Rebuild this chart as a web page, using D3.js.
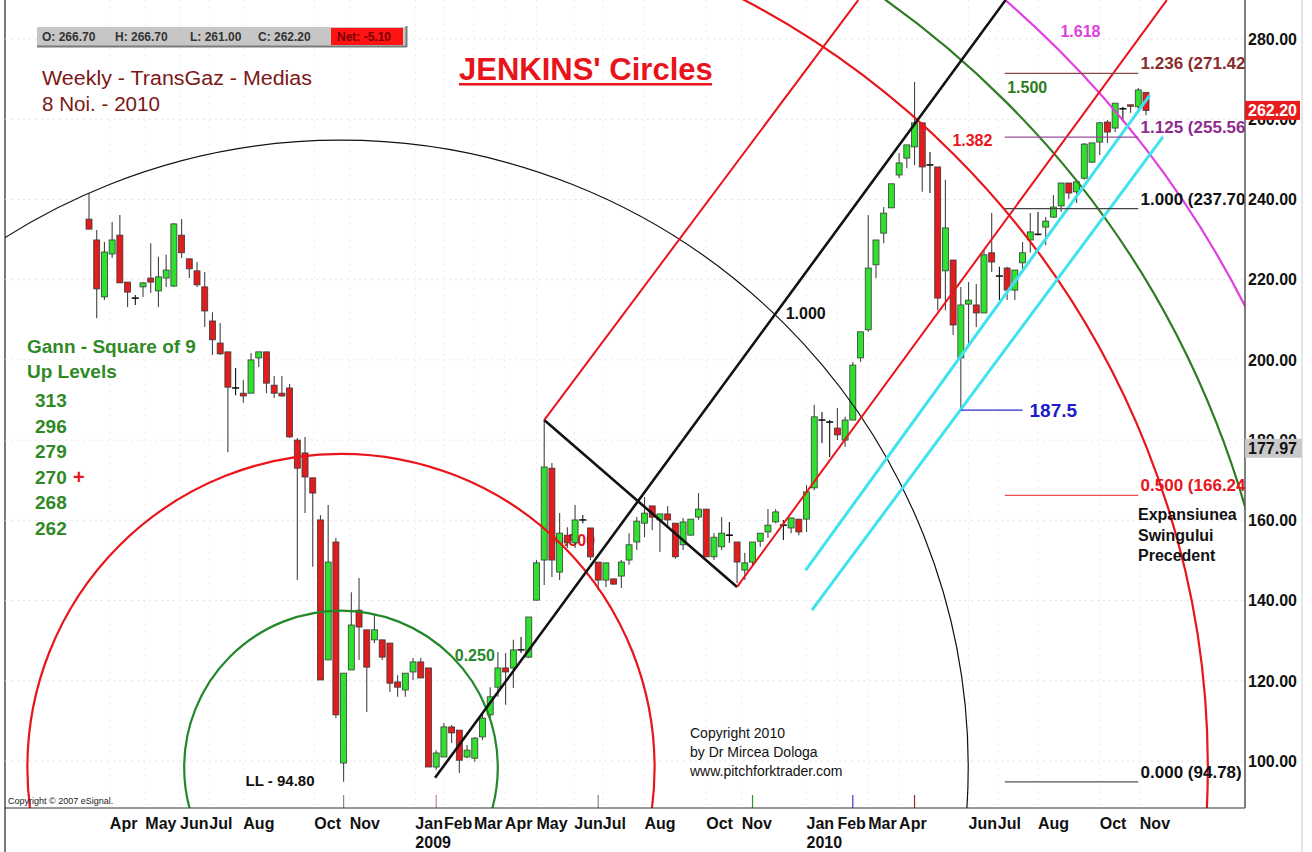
<!DOCTYPE html>
<html>
<head>
<meta charset="utf-8">
<script src="https://cdnjs.cloudflare.com/ajax/libs/d3/7.8.5/d3.min.js"></script>
<style>
body { margin:0; background:#fff; }
svg { display:block; font-family:"Liberation Sans", Arial, sans-serif; }
</style>
</head>
<body>
<svg id="chart" width="1312" height="852"></svg>
<script>
// weekly bars TransGaz (TGN), 24 Mar 2008 -> 8 Nov 2010
var opens = [
 235.1,229.9,215.7,226.4,231.1,219.4,215.4,218.2,220.4,217.2,
 220.4,218.4,231.1,225.2,222.2,218.2,209.7,204.2,202.0,193.0,
 191.7,191.7,200.5,202.0,193.7,191.7,193.0,180.0,176.8,170.6,
 160.1,125.2,154.6,99.5,122.7,137.6,132.7,130.2,130.2,129.4,
 119.7,117.7,122.2,124.7,123.2,98.5,101.0,108.5,107.7,101.0,
 100.7,106.0,111.5,118.4,123.2,123.2,127.7,125.9,140.1,150.1,
 173.0,147.1,156.3,154.4,160.1,158.1,149.6,145.1,145.4,146.1,
 150.1,154.6,159.3,163.6,160.1,161.6,159.3,153.9,156.3,160.8,
 162.8,150.9,153.4,156.3,154.6,147.6,149.6,154.8,157.1,159.6,
 158.8,158.1,160.3,160.3,168.1,185.0,184.5,183.0,180.0,185.0,
 200.5,207.5,223.7,231.6,237.9,246.1,250.3,253.1,259.1,248.6,
 248.1,222.2,224.9,200.5,213.9,213.7,211.7,226.7,220.9,222.9,
 217.4,224.2,229.9,231.6,233.1,235.6,238.4,244.1,241.9,245.3,
 249.3,254.3,259.3,257.8,262.6,263.6,263.1,266.7];
var highs = [
 241.6,232.4,229.4,234.4,236.1,219.4,216.2,219.4,229.1,225.7,
 226.2,234.1,235.1,225.2,224.4,221.9,211.9,209.2,202.0,198.0,
 195.0,201.7,202.0,202.0,196.0,196.0,194.0,180.5,180.8,170.6,
 161.3,163.8,155.6,121.9,142.1,145.6,132.7,136.4,130.2,129.4,
 121.4,121.9,125.7,125.7,123.2,102.7,109.5,109.0,107.7,104.0,
 106.0,112.0,118.4,127.2,126.9,130.2,130.9,135.9,150.1,185.0,
 174.3,161.8,158.3,163.8,161.3,158.1,149.6,149.4,145.4,150.1,
 156.8,160.8,165.8,163.6,161.6,163.6,159.3,160.6,160.3,166.8,
 162.8,156.8,160.8,159.6,154.6,151.9,154.6,156.8,162.8,162.8,
 160.1,160.6,160.3,168.8,188.8,187.0,185.0,188.0,185.8,199.5,
 207.0,236.1,229.9,238.1,243.9,251.6,253.6,269.3,259.1,251.8,
 248.1,244.9,224.9,218.2,219.4,218.9,227.4,236.6,223.2,223.2,
 222.4,229.4,236.6,236.9,235.6,241.1,244.1,244.1,244.9,254.1,
 254.1,259.3,259.8,264.0,263.1,263.6,267.8,266.7];
var lows = [
 232.6,210.4,214.9,225.4,219.2,213.2,213.7,215.7,216.7,213.2,
 218.2,218.2,225.4,220.4,218.2,208.2,201.2,201.2,177.0,191.2,
 189.3,191.7,198.2,191.7,190.5,190.8,180.5,145.1,161.8,148.4,
 120.2,125.2,110.7,94.8,122.7,125.2,112.2,129.4,125.2,117.2,
 116.0,116.0,120.2,120.7,98.5,97.8,101.0,104.5,97.0,100.7,
 99.8,105.2,110.2,116.0,114.0,118.2,126.9,125.7,140.0,143.9,
 145.9,145.1,153.1,153.1,159.3,150.1,142.6,143.4,143.9,143.1,
 148.9,152.6,155.8,157.6,152.1,158.6,150.4,152.6,156.3,160.1,
 150.9,150.1,152.6,154.4,144.4,145.1,148.4,153.4,155.6,159.3,
 155.1,156.8,156.3,157.1,167.5,179.3,175.8,180.0,178.3,185.0,
 199.5,207.0,220.4,229.1,237.9,245.3,247.8,248.6,241.9,241.6,
 212.4,212.4,206.2,187.5,203.2,208.2,211.7,221.9,214.9,214.9,
 214.9,221.7,226.7,231.1,228.6,235.4,236.9,240.1,239.1,244.9,
 249.1,251.1,254.1,256.8,259.3,261.6,262.3,261.0];
var closes = [
 232.6,217.7,226.9,229.9,219.2,216.9,215.4,219.2,219.4,220.7,
 222.4,233.9,226.7,222.7,218.7,212.2,205.0,201.5,193.2,193.0,
 191.0,200.0,202.0,194.2,191.7,191.0,180.8,173.0,170.8,166.8,
 120.2,149.6,111.5,121.9,133.9,133.4,123.4,132.7,125.9,119.4,
 118.4,121.9,124.7,120.7,98.5,102.0,108.5,107.0,100.2,102.7,
 105.7,110.7,116.0,123.2,122.2,127.7,127.7,135.9,149.4,173.3,
 150.1,156.8,154.4,160.1,160.1,150.9,145.1,149.4,144.1,149.6,
 153.9,159.8,161.8,160.8,161.6,160.1,150.9,159.6,160.3,162.8,
 150.9,155.8,156.8,156.3,149.6,149.4,154.6,156.8,158.8,162.1,
 158.8,160.6,157.1,167.1,185.8,185.0,184.5,181.3,185.0,198.7,
 207.0,222.9,229.9,236.6,243.9,249.1,253.6,259.1,248.1,248.6,
 215.4,232.9,208.7,213.7,214.9,211.7,226.2,224.4,220.9,217.4,
 222.4,226.7,231.9,231.3,234.6,238.1,244.1,241.6,244.4,253.8,
 254.1,259.1,256.8,264.0,262.6,263.3,267.3,262.2];

// x axis labels (bar where the label starts)
var monthNames = ["Apr","May","Jun","Jul","Aug","Oct","Nov","Jan","Feb","Mar","Apr","May","Jun","Jul","Aug","Oct","Nov","Jan","Feb","Mar","Apr","Jun","Jul","Aug","Oct","Nov"];
var monthBars = [2.7,7.3,11.8,15.6,20,29.2,33.8,42.3,46,49.9,53.9,58,62.9,66.6,72,80,84.6,93,97,101,105,114.0,117.8,123,131,136.2];
var yearNames = ["2009","2010"];
var yearBars = [42.3,93];
var priceTicks = [100,120,140,160,180,200,220,240,260,280];

// jenkins circles - centre near the LL, unit radius through the first swing high
var circleCentre = [32.66, 98.4];
var circleRatios = [0.25, 0.5, 1.0, 1.382, 1.5, 1.618];
var circleColors = ["#23882a","#e8151b","#111111","#e8151b","#2e7d22","#e040e0"];

// fib expansion of previous swing
var fibLevels = ["0.000","0.500","1.000","1.125","1.236"];
var fibPrices = [94.78, 166.24, 237.70, 255.56, 271.42];
var fibColors = ["#111","#e8151b","#111","#8e2b8e","#8b2c2c"];
var fibLineColors = ["#555","#e85050","#444","#9a4a9a","#8a4a4a"];

// pitchfork + parallels, [bar, price] pairs
var forkLines = [
 {p:[[44.85,95.8],[118.8,289.7]], c:"#111", w:2.6},
 {p:[[59,185.0],[84,143.4]], c:"#111", w:2.6},
 {p:[[59,185.0],[99.7,289.7]], c:"#e8151b", w:2},
 {p:[[84,143.4],[139.7,289.7]], c:"#e8151b", w:2},
 {p:[[92.9,147.6],[137.5,266.0]], c:"#3fe3ee", w:3},
 {p:[[93.7,137.6],[139.2,255.6]], c:"#3fe3ee", w:3}
];

var gannLevels = ["313","296","279","270","268","262"];
var pivotBars = [33,45,66,86,99,107];
var pivotColors = ["#888","#c77fa0","#888","#2a9a2a","#3a3ac8","#a02a2a"];

var svg = d3.select("#chart");
var L = 5, R = 1245, T = 0, B = 808;

var x = d3.scaleLinear().domain([0, 137]).range([89, 1146]);
var y = d3.scaleLinear().domain([100, 280]).range([761, 39]);

svg.append("defs").append("clipPath").attr("id","plot")
  .append("rect").attr("x",L).attr("y",T).attr("width",R-L).attr("height",B-T);

// frame
svg.append("line").attr("x1",L).attr("x2",L).attr("y1",0).attr("y2",852).attr("stroke","#222").attr("stroke-width",1.2);
svg.append("line").attr("x1",1302).attr("x2",1302).attr("y1",0).attr("y2",852).attr("stroke","#ccc");

// faint grid
var grid = svg.append("g").attr("clip-path","url(#plot)");
grid.selectAll(".hg").data(priceTicks).enter().append("line")
  .attr("x1",L).attr("x2",R).attr("y1",d => y(d)).attr("y2",d => y(d))
  .attr("stroke","#e4e4e4").attr("stroke-dasharray","2,4");
grid.selectAll(".vg").data(monthBars).enter().append("line")
  .attr("x1",d => x(d)).attr("x2",d => x(d)).attr("y1",T).attr("y2",B)
  .attr("stroke","#efefef").attr("stroke-dasharray","2,4");

var plot = svg.append("g").attr("clip-path","url(#plot)");

// labels that sit under the candles
var cx0 = x(circleCentre[0]), cy0 = y(circleCentre[1]);
var unitR = Math.hypot(x(0) - cx0, y(highs[0]) - cy0);

var circleLabels = [
 {t:"0.250", b:50.0, v:126.4, c:circleColors[0]},
 {t:"0.500", b:63.0, v:155.1, c:circleColors[1]},
 {t:"1.000", b:92.9, v:211.7, c:circleColors[2]},
 {t:"1.382", b:114.5, v:254.6, c:circleColors[3]},
 {t:"1.500", b:121.6, v:268.0, c:circleColors[4]},
 {t:"1.618", b:128.5, v:282.0, c:circleColors[5]}
];
plot.selectAll(".clab").data(circleLabels).enter().append("text")
  .attr("x",d => x(d.b)).attr("y",d => y(d.v)).attr("dy","0.35em")
  .attr("text-anchor","middle").attr("font-size",16).attr("font-weight","bold")
  .attr("fill",d => d.c).text(d => d.t);

// candles
var bars = d3.range(opens.length).map(function(i){
  return {i:i, o:opens[i], h:highs[i], l:lows[i], c:closes[i]};
});
var cg = plot.append("g");
cg.selectAll(".wick").data(bars).enter().append("line")
  .attr("x1",d => x(d.i)).attr("x2",d => x(d.i))
  .attr("y1",d => y(d.h)).attr("y2",d => y(d.l))
  .attr("stroke",d => Math.abs(d.o-d.c) < 0.3 ? "#111" : "#444").attr("stroke-width",1.1);
cg.selectAll(".body").data(bars.filter(d => Math.abs(d.o-d.c) >= 0.3)).enter().append("rect")
  .attr("x",d => x(d.i)-3).attr("width",6)
  .attr("y",d => y(Math.max(d.o,d.c)))
  .attr("height",d => Math.max(1.5, y(Math.min(d.o,d.c)) - y(Math.max(d.o,d.c))))
  .attr("fill",d => d.c > d.o ? "#2fe02f" : "#e01c1c")
  .attr("stroke","#3a3a3a").attr("stroke-width",0.8);
cg.selectAll(".doji").data(bars.filter(d => Math.abs(d.o-d.c) < 0.3)).enter().append("line")
  .attr("x1",d => x(d.i)-3.5).attr("x2",d => x(d.i)+3.5)
  .attr("y1",d => y(d.c)).attr("y2",d => y(d.c))
  .attr("stroke","#111").attr("stroke-width",1.6);

// circles
plot.selectAll(".jc").data(circleRatios).enter().append("circle")
  .attr("cx",cx0).attr("cy",cy0).attr("r",d => d*unitR)
  .attr("fill","none").attr("stroke",(d,i) => circleColors[i])
  .attr("stroke-width",d => d == 1 ? 1.2 : 2.2);

// pitchfork lines
plot.selectAll(".fork").data(forkLines).enter().append("line")
  .attr("x1",d => x(d.p[0][0])).attr("y1",d => y(d.p[0][1]))
  .attr("x2",d => x(d.p[1][0])).attr("y2",d => y(d.p[1][1]))
  .attr("stroke",d => d.c).attr("stroke-width",d => d.w);

// fib expansion
var fibFrom = 118.7, fibTo = 136.0, fibText = 136.3;
plot.selectAll(".fib").data(fibPrices).enter().append("line")
  .attr("x1",x(fibFrom)).attr("x2",x(fibTo)).attr("y1",d => y(d)).attr("y2",d => y(d))
  .attr("stroke",(d,i) => fibLineColors[i]).attr("stroke-width",1.3);
plot.selectAll(".fibt").data(fibPrices).enter().append("text")
  .attr("x",x(fibText)).attr("y",d => y(d)-4)
  .attr("font-size",17).attr("font-weight","bold")
  .attr("fill",(d,i) => fibColors[i])
  .text((d,i) => fibLevels[i] + " (" + d.toFixed(2) + (i == 0 || i == 2 ? ")" : ""));

// 187.5 low marker
var lowBar = 113;
plot.append("line").attr("x1",x(lowBar)).attr("x2",x(121)).attr("y1",y(lows[lowBar])).attr("y2",y(lows[lowBar]))
  .attr("stroke","#2a2ad0").attr("stroke-width",1.3);
plot.append("text").attr("x",x(121)+7).attr("y",y(lows[lowBar])+7)
  .attr("font-size",19).attr("font-weight","bold").attr("fill","#1c1cc8").text("187.5");

// pivot ticks on the bottom
plot.selectAll(".pv").data(pivotBars).enter().append("line")
  .attr("x1",d => x(d)).attr("x2",d => x(d)).attr("y1",B-13).attr("y2",B)
  .attr("stroke",(d,i) => pivotColors[i]).attr("stroke-width",1.2);

// axes
svg.append("line").attr("x1",L).attr("x2",R).attr("y1",B).attr("y2",B).attr("stroke","#333").attr("stroke-width",1.2);
svg.append("line").attr("x1",R).attr("x2",R).attr("y1",0).attr("y2",B).attr("stroke","#555").attr("stroke-width",1.5);

svg.selectAll(".yl").data(priceTicks).enter().append("text")
  .attr("x",R+3).attr("y",d => y(d)).attr("dy","0.36em")
  .attr("font-size",16).attr("font-weight","bold").attr("fill","#111")
  .text(d => d.toFixed(2));

svg.selectAll(".ml").data(monthNames).enter().append("text")
  .attr("x",(d,i) => x(monthBars[i])).attr("y",829)
  .attr("font-size",16).attr("font-weight","bold").attr("fill","#111").text(d => d);
svg.selectAll(".yr").data(yearNames).enter().append("text")
  .attr("x",(d,i) => x(yearBars[i])).attr("y",848)
  .attr("font-size",16).attr("font-weight","bold").attr("fill","#111").text(d => d);

// last price + line value boxes
var last = closes[closes.length-1];
svg.append("rect").attr("x",R).attr("y",y(last)-9.5).attr("width",55).attr("height",19).attr("fill","#e81c1c");
svg.append("text").attr("x",R+3).attr("y",y(last)).attr("dy","0.36em").attr("font-size",16).attr("font-weight","bold")
  .attr("fill","#fff").text(last.toFixed(2));
var lineVal = 177.97;
svg.append("rect").attr("x",R).attr("y",y(lineVal)-9.5).attr("width",57).attr("height",19).attr("fill","#c9c9c9");
svg.append("text").attr("x",R+3).attr("y",y(lineVal)).attr("dy","0.36em").attr("font-size",16).attr("font-weight","bold")
  .attr("fill","#111").text(lineVal.toFixed(2));

// header bar with last bar values
var hdr = svg.append("g");
hdr.append("rect").attr("x",37).attr("y",27).attr("width",369).attr("height",19).attr("fill","#c6c6c6");
hdr.append("line").attr("x1",37).attr("x2",407).attr("y1",46.5).attr("y2",46.5).attr("stroke","#7a7a7a").attr("stroke-width",2);
hdr.append("line").attr("x1",406.5).attr("x2",406.5).attr("y1",26).attr("y2",47).attr("stroke","#7a7a7a").attr("stroke-width",2);
hdr.append("rect").attr("x",331).attr("y",28).attr("width",72).attr("height",17).attr("fill","#ff1414");
var hdrItems = [
 {t:"O: " + opens[137].toFixed(2), x:42, c:"#333"},
 {t:"H: " + highs[137].toFixed(2), x:115, c:"#333"},
 {t:"L: " + lows[137].toFixed(2), x:190, c:"#333"},
 {t:"C: " + closes[137].toFixed(2), x:258, c:"#333"},
 {t:"Net: -5.10", x:337, c:"#7a0000"}
];
hdr.selectAll("text").data(hdrItems).enter().append("text")
  .attr("x",d => d.x).attr("y",40.5).attr("font-size",12).attr("font-weight","bold")
  .attr("fill",d => d.c).text(d => d.t);

// titles
svg.append("text").attr("x",42).attr("y",85).attr("font-size",20).attr("fill","#7c1818")
  .attr("textLength",270).attr("lengthAdjust","spacingAndGlyphs").text("Weekly - TransGaz - Medias");
svg.append("text").attr("x",42).attr("y",111).attr("font-size",20).attr("fill","#7c1818")
  .attr("textLength",118).attr("lengthAdjust","spacingAndGlyphs").text("8 Noi. - 2010");
svg.append("text").attr("x",459).attr("y",80).attr("font-size",31).attr("font-weight","bold").attr("fill","#e8141c")
  .text("JENKINS' Circles");
svg.append("rect").attr("x",459).attr("y",83).attr("width",253).attr("height",2.5).attr("fill","#e8141c");

// gann square of 9
svg.append("text").attr("x",27).attr("y",353).attr("font-size",19).attr("font-weight","bold").attr("fill","#2f8a25").text("Gann - Square of 9");
svg.append("text").attr("x",27).attr("y",378).attr("font-size",19).attr("font-weight","bold").attr("fill","#2f8a25").text("Up Levels");
svg.selectAll(".gann").data(gannLevels).enter().append("text")
  .attr("x",35).attr("y",(d,i) => 407 + i*25.5)
  .attr("font-size",19).attr("font-weight","bold").attr("fill","#2f8a25").text(d => d);
svg.append("text").attr("x",73).attr("y",484).attr("font-size",20).attr("font-weight","bold").attr("fill","#e8151b").text("+");

// low label
svg.append("text").attr("x",x(lows.indexOf(d3.min(lows))) - 98).attr("y",y(d3.min(lows))+4)
  .attr("font-size",15).attr("font-weight","bold").attr("fill","#111").text("LL - " + d3.min(lows).toFixed(2));

// expansion note
["Expansiunea","Swingului","Precedent"].forEach(function(t,i){
  svg.append("text").attr("x",1138).attr("y",520 + i*20.5).attr("font-size",16).attr("font-weight","bold").attr("fill","#111").text(t);
});

// copyright
["Copyright 2010","by Dr Mircea Dologa","www.pitchforktrader.com"].forEach(function(t,i){
  svg.append("text").attr("x",690).attr("y",738 + i*19).attr("font-size",14).attr("fill","#111").text(t);
});
svg.append("text").attr("x",8).attr("y",804).attr("font-size",9).attr("fill","#222").text("Copyright \u00a9 2007 eSignal.");
</script>
</body>
</html>
